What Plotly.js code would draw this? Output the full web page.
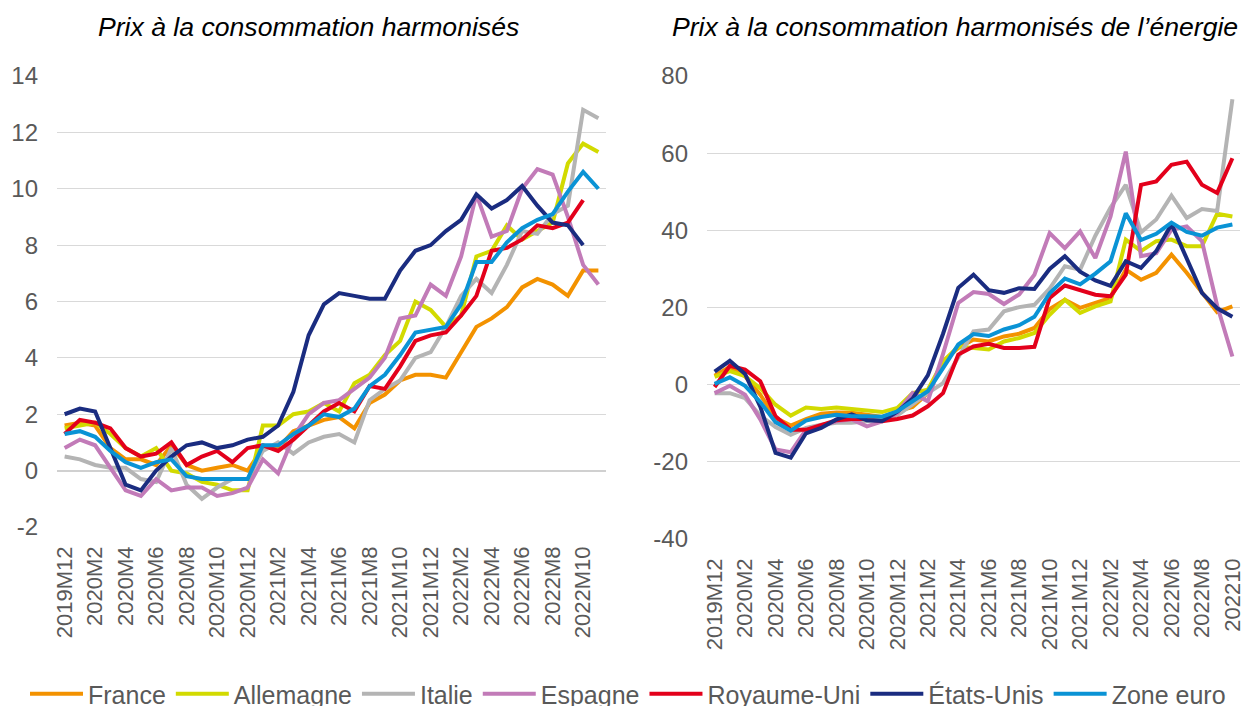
<!DOCTYPE html>
<html><head><meta charset="utf-8">
<script src="https://cdn.plot.ly/plotly-3.0.1.min.js"></script>
<style>html,body{margin:0;padding:0;background:#fff}#chart{width:1241px;height:706px}</style>
</head><body><div id="chart"></div>
<script>
// Categories (monthly)
const months = ["2019M12","2020M1","2020M2","2020M3","2020M4","2020M5","2020M6","2020M7","2020M8","2020M9","2020M10","2020M11","2020M12",
  "2021M1","2021M2","2021M3","2021M4","2021M5","2021M6","2021M7","2021M8","2021M9","2021M10","2021M11","2021M12",
  "2022M1","2022M2","2022M3","2022M4","2022M5","2022M6","2022M7","2022M8","2022M9","2022M10","2022M11"];
const monthsEnergy = ["2019M12","2020M1","2020M2","2020M3","2020M4","2020M5","2020M6","2020M7","2020M8","2020M9","2020M10","2020M11","2020M12",
  "2021M1","2021M2","2021M3","2021M4","2021M5","2021M6","2021M7","2021M8","2021M9","2021M10","2021M11","2021M12",
  "2022M1","2022M2","2022M3","2022M4","2022M5","2022M6","2022M7","2022M8","2022M9","2022M10"];
const tickValsLeft = ["2019M12","2020M2","2020M4","2020M6","2020M8","2020M10","2020M12","2021M2","2021M4","2021M6","2021M8","2021M10","2021M12","2022M2","2022M4","2022M6","2022M8","2022M10"];
const tickTextLeft = ["2019M12","2020M2","2020M4","2020M6","2020M8","2020M10","2020M12","2021M2","2021M4","2021M6","2021M8","2021M10","2021M12","2022M2","2022M4","2022M6","2022M8","2022M10"];
const tickValsRight = ["2019M12","2020M2","2020M4","2020M6","2020M8","2020M10","2020M12","2021M2","2021M4","2021M6","2021M8","2021M10","2021M12","2022M2","2022M4","2022M6","2022M8","2022M10"];
const tickTextRight = ["2019M12","2020M2","2020M4","2020M6","2020M8","2020M10","2020M12","2021M2","2021M4","2021M6","2021M8","2021M10","2021M12","2022M2","2022M4","2022M6","2022M8","202210"];
const yTickValsLeft = [-2,0,2,4,6,8,10,12,14];
const yTickTextLeft = ["-2","0","2","4","6","8","10","12","14"];
const yTickValsRight = [-40,-20,0,20,40,60,80];
const yTickTextRight = ["-40","-20","0","20","40","60","80"];

const seriesNames = ["France","Allemagne","Italie","Espagne","Royaume-Uni","États-Unis","Zone euro"];

// Harmonised consumer prices (% y/y)
const hicpFrance   = [1.6,1.7,1.6,0.8,0.4,0.4,0.2,0.9,0.2,0.0,0.1,0.2,0.0,0.8,0.8,1.4,1.6,1.8,1.9,1.5,2.4,2.7,3.2,3.4,3.4,3.3,4.2,5.1,5.4,5.8,6.5,6.8,6.6,6.2,7.1,7.1];
const hicpGermany  = [1.5,1.6,1.7,1.3,0.8,0.5,0.8,0.0,-0.1,-0.4,-0.5,-0.7,-0.7,1.6,1.6,2.0,2.1,2.4,2.1,3.1,3.4,4.1,4.6,6.0,5.7,5.1,5.5,7.6,7.8,8.7,8.2,8.5,8.8,10.9,11.6,11.3];
const hicpItaly    = [0.5,0.4,0.2,0.1,0.1,-0.3,-0.4,0.8,-0.5,-1.0,-0.6,-0.3,-0.3,0.7,1.0,0.6,1.0,1.2,1.3,1.0,2.5,2.9,3.2,4.0,4.2,5.1,6.2,6.8,6.3,7.3,8.5,8.4,9.1,9.4,12.8,12.5];
const hicpSpain    = [0.8,1.1,0.9,0.1,-0.7,-0.9,-0.3,-0.7,-0.6,-0.6,-0.9,-0.8,-0.6,0.4,-0.1,1.2,2.0,2.4,2.5,2.9,3.3,4.0,5.4,5.5,6.6,6.2,7.6,9.8,8.3,8.5,10.0,10.7,10.5,9.0,7.3,6.6];
const hicpUK       = [1.3,1.8,1.7,1.5,0.8,0.5,0.6,1.0,0.2,0.5,0.7,0.3,0.8,0.9,0.7,1.1,1.6,2.1,2.4,2.1,3.0,2.9,3.7,4.6,4.8,4.9,5.5,6.2,7.8,7.9,8.2,8.7,8.6,8.8,9.6];
const hicpUS       = [2.0,2.2,2.1,0.8,-0.5,-0.7,0.0,0.5,0.9,1.0,0.8,0.9,1.1,1.2,1.6,2.8,4.8,5.9,6.3,6.2,6.1,6.1,7.1,7.8,8.0,8.5,8.9,9.8,9.3,9.6,10.1,9.4,8.8,8.7,8.0];
const hicpEuro     = [1.3,1.4,1.2,0.7,0.3,0.1,0.3,0.4,-0.2,-0.3,-0.3,-0.3,-0.3,0.9,0.9,1.3,1.6,2.0,1.9,2.2,3.0,3.4,4.1,4.9,5.0,5.1,5.9,7.4,7.4,8.1,8.6,8.9,9.1,9.9,10.6,10.0];

// Harmonised energy prices (% y/y)
const enFrance  = [2.3,4.6,2.2,-2.6,-8.6,-10.6,-8.9,-7.5,-7.2,-7.3,-7.8,-8.4,-6.9,-5.8,-2.2,6.0,9.5,11.7,11.2,12.5,13.2,14.7,19.6,22.0,19.9,21.2,22.5,29.8,27.2,29.0,33.7,29.0,23.8,18.8,20.3];
const enGermany = [2.0,3.5,2.2,-0.9,-5.2,-8.0,-5.9,-6.3,-5.9,-6.3,-6.5,-7.1,-6.0,-2.2,-1.3,6.0,9.9,9.5,9.1,11.2,12.1,13.4,18.1,22.0,18.6,20.3,21.6,37.6,34.6,37.2,37.6,35.9,35.9,44.3,43.6];
const enItaly   = [-2.2,-2.2,-3.5,-8.0,-11.0,-13.0,-11.2,-10.4,-9.9,-9.9,-9.5,-9.0,-8.0,-5.0,-2.2,0.4,7.3,13.8,14.3,19.0,20.1,20.7,24.9,30.7,29.8,38.6,45.9,51.8,39.5,42.8,49.0,43.2,45.5,45.0,74.0];
const enSpain   = [-2.2,-0.3,-2.6,-9.0,-16.8,-17.5,-11.7,-10.5,-9.5,-9.0,-10.8,-9.5,-7.3,-2.2,-4.3,8.0,21.2,24.0,23.5,20.9,23.4,28.5,39.3,35.4,39.7,32.8,43.6,60.4,33.3,34.1,40.2,41.0,37.2,20.5,7.3];
const enUK      = [-0.6,4.9,3.9,0.9,-8.2,-11.7,-11.7,-10.4,-9.2,-8.9,-8.9,-9.5,-8.9,-8.0,-5.6,-2.2,7.8,9.9,10.6,9.5,9.5,9.8,22.5,25.7,24.6,23.3,22.9,28.5,51.8,52.7,57.0,57.8,51.8,49.7,58.7];
const enUS      = [3.4,6.2,2.8,-5.7,-17.7,-18.9,-12.6,-11.2,-9.0,-7.7,-9.2,-9.4,-7.0,-3.6,2.4,13.2,25.1,28.5,24.5,23.8,25.0,24.8,30.0,33.3,29.3,27.0,25.6,32.0,30.3,34.6,41.6,32.9,23.8,19.8,17.6];
const enEuro    = [0.2,1.9,-0.3,-4.5,-9.7,-11.9,-9.3,-8.4,-7.8,-8.2,-8.2,-8.3,-6.9,-4.2,-1.7,4.3,10.4,13.1,12.6,14.3,15.4,17.6,23.7,27.5,26.0,28.8,32.0,44.4,37.5,39.1,42.0,39.6,38.6,40.7,41.5];

const colors = ["#F39200","#D2DA00","#B4B4B4","#C27BB8","#E3001B","#1A2C80","#0A93D5"];
const leftSeries = [hicpFrance,hicpGermany,hicpItaly,hicpSpain,hicpUK,hicpUS,hicpEuro];
const rightSeries = [enFrance,enGermany,enItaly,enSpain,enUK,enUS,enEuro];

const FONT = "Liberation Sans, Arial, sans-serif";
const traces = [];
seriesNames.forEach((name, k) => {
  traces.push({
    type: "scatter", mode: "lines", name: name, legendgroup: name,
    x: months.slice(0, leftSeries[k].length), y: leftSeries[k],
    xaxis: "x", yaxis: "y",
    line: {color: colors[k], width: 4, shape: "linear"},
    showlegend: true
  });
});
seriesNames.forEach((name, k) => {
  traces.push({
    type: "scatter", mode: "lines", name: name, legendgroup: name,
    x: monthsEnergy.slice(0, rightSeries[k].length), y: rightSeries[k],
    xaxis: "x2", yaxis: "y2",
    line: {color: colors[k], width: 4, shape: "linear"},
    showlegend: false
  });
});

const W = 1241, H = 706;
const gridColor = "#D9D9D9";
const tickFontY = {family: FONT, size: 24, color: "#595959"};
const tickFontX = {family: FONT, size: 22, color: "#595959"};
const titleFont = {family: FONT, size: 26.6, color: "#000000", style: "italic"};

const layout = {
  width: W, height: H,
  margin: {l: 0, r: 0, t: 0, b: 0, pad: 0, autoexpand: false},
  paper_bgcolor: "#ffffff", plot_bgcolor: "#ffffff",
  font: {family: FONT, color: "#595959"},
  showlegend: true,
  xaxis: {
    type: "category", categoryorder: "array", categoryarray: months,
    domain: [57/W, 606/W], range: [-0.5, months.length - 0.5],
    tickmode: "array", tickvals: tickValsLeft, ticktext: tickTextLeft,
    tickangle: -90, tickfont: tickFontX, ticklabelstandoff: 14,
    showgrid: false, zeroline: false, showline: false, ticks: "", anchor: "y"
  },
  yaxis: {
    domain: [1 - 527/H, 1 - 76/H], range: [-2, 14],
    tickmode: "array", tickvals: yTickValsLeft, ticktext: yTickTextLeft,
    tickfont: tickFontY, showgrid: true, gridcolor: gridColor, gridwidth: 1,
    zeroline: true, zerolinecolor: "#D0D0D0", zerolinewidth: 2,
    showline: false, ticks: "", ticklabelstandoff: 18, anchor: "x"
  },
  xaxis2: {
    type: "category", categoryorder: "array", categoryarray: monthsEnergy,
    domain: [707/W, 1240/W], range: [-0.5, monthsEnergy.length - 0.5],
    tickmode: "array", tickvals: tickValsRight, ticktext: tickTextRight,
    tickangle: -90, tickfont: tickFontX, ticklabelstandoff: 14,
    showgrid: false, zeroline: false, showline: false, ticks: "", anchor: "y2"
  },
  yaxis2: {
    domain: [1 - 539/H, 1 - 76/H], range: [-40, 80],
    tickmode: "array", tickvals: yTickValsRight, ticktext: yTickTextRight,
    tickfont: tickFontY, showgrid: true, gridcolor: gridColor, gridwidth: 1,
    zeroline: true, zerolinecolor: gridColor, zerolinewidth: 1,
    showline: false, ticks: "", ticklabelstandoff: 18, anchor: "x2"
  },
  legend: {
    orientation: "h", x: 25/W, xanchor: "left", y: (706 - 694)/H, yanchor: "middle",
    font: {family: FONT, size: 25, color: "#595959"},
    itemwidth: 53, bgcolor: "rgba(0,0,0,0)", borderwidth: 0, traceorder: "normal"
  },
  annotations: [
    {text: "Prix à la consommation harmonisés", xref: "paper", yref: "paper",
     x: 308/W, y: 1 - 27/H, xanchor: "center", yanchor: "middle", showarrow: false,
     font: titleFont},
    {text: "Prix à la consommation harmonisés de l’énergie", xref: "paper", yref: "paper",
     x: 955/W, y: 1 - 27/H, xanchor: "center", yanchor: "middle", showarrow: false,
     font: titleFont}
  ]
};

Plotly.newPlot("chart", traces, layout, {staticPlot: true, displayModeBar: false});
</script>
</body></html>
